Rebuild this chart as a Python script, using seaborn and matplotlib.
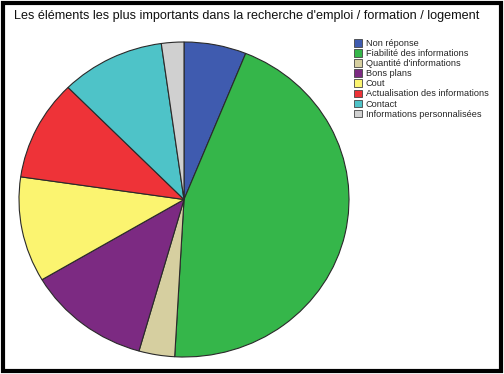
import matplotlib
matplotlib.use("Agg")
import matplotlib.pyplot as plt
import seaborn as sns
from matplotlib.patches import Patch, Rectangle

sns.set_theme(style="white")
plt.rcParams['font.family'] = ['Liberation Sans', 'DejaVu Sans']

categories = ["Non réponse", "Fiabilité des informations", "Quantité d'informations",
              "Bons plans", "Cout", "Actualisation des informations", "Contact",
              "Informations personnalisées"]
values = [6.1, 44.8, 3.5, 12.1, 10.8, 10.3, 10.2, 2.2]
colors = ["#3F5BAF", "#35B64A", "#D6CFA0", "#7C2A82", "#FBF470", "#EE3338", "#4EC3C8", "#D0D0D0"]
title = "Les éléments les plus importants dans la recherche d'emploi / formation / logement"

fig = plt.figure(figsize=(5.04, 3.74), dpi=100)
ax = fig.add_axes([19/504, (374-357)/374, 330/504, 315/374])
ax.pie(values, colors=colors, startangle=90, counterclock=False,
       wedgeprops=dict(edgecolor="#2a2a2a", linewidth=0.8))
ax.set_aspect('auto')
ax.set_xlim(-1.0, 1.0)
ax.set_ylim(-1.0, 1.0)
ax.axis('off')

fig.text(14/504, 1 - 16/374, title, fontsize=9.1, va='center', ha='left', color='#111111')

handles = [Patch(facecolor=c, edgecolor='#444444', linewidth=0.6) for c in colors]
fig.legend(handles, categories, loc='upper left', bbox_to_anchor=(354/504, 1 - 39/374),
           frameon=False, fontsize=6.6, labelspacing=0.12, handlelength=0.9,
           handleheight=0.9, handletextpad=0.4, borderaxespad=0, borderpad=0)

fig.patches.append(Rectangle((3/504, 3/374), 1 - 6/504, 1 - 6/374, transform=fig.transFigure,
                             fill=False, edgecolor='black', linewidth=3, zorder=10))

fig.savefig("out.png", dpi=100)
